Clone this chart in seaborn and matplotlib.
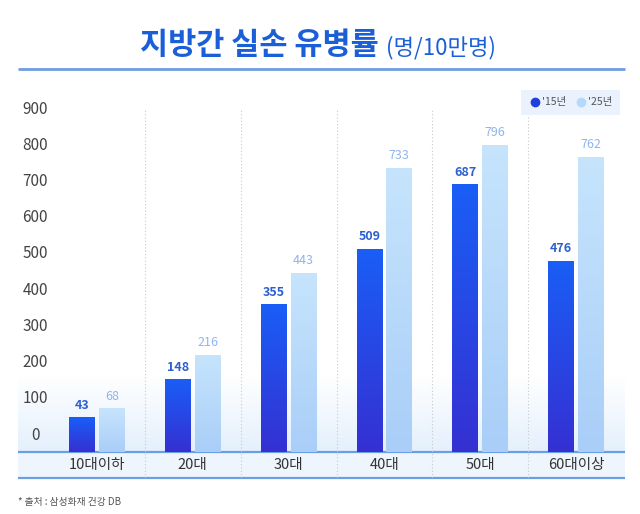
import numpy as np
import pandas as pd
import matplotlib
matplotlib.use('Agg')
import matplotlib.pyplot as plt
import seaborn as sns
from matplotlib.colors import LinearSegmentedColormap
from matplotlib.lines import Line2D
from matplotlib.patches import Rectangle

# ---------------- data ----------------
categories = ['10대이하', '20대', '30대', '40대', '50대', '60대이상']
series_names = ["'15년", "'25년"]
values_15 = [43, 148, 355, 509, 687, 476]
values_25 = [68, 216, 443, 733, 796, 762]
yticks = [0, 100, 200, 300, 400, 500, 600, 700, 800, 900]
title_main = '지방간 실손 유병률'
title_unit = '(명/10만명)'
source_text = '* 출처 : 삼성화재 건강 DB'

# ---------------- style ----------------
sns.set_theme(style='white')
plt.rcParams['font.family'] = ['Noto Sans CJK KR', 'DejaVu Sans']

df = pd.DataFrame({
    'cat': categories * 2,
    'year': [series_names[0]] * len(categories) + [series_names[1]] * len(categories),
    'val': values_15 + values_25,
})

W, H = 640, 514
fig = plt.figure(figsize=(6.4, 5.14), dpi=100)
fig.patch.set_facecolor('white')

# decoration layer in pixel coordinates
bg = fig.add_axes([0, 0, 1, 1], zorder=0)
bg.axis('off')
grad = np.linspace(0, 1, 200).reshape(-1, 1)
bgcmap = LinearSegmentedColormap.from_list('bg', ['#ffffff', '#e4f0fd'])
bg.imshow(grad, extent=[18, 625, 452, 375], cmap=bgcmap, aspect='auto', zorder=0)
bg.add_patch(Rectangle((18, 452), 607, 26, facecolor='#eef5fd', edgecolor='none', zorder=1))
bg.plot([18, 625], [452, 452], color='#6d9ee2', lw=1.6, zorder=2, solid_capstyle='butt')
bg.plot([18, 625], [478, 478], color='#6d9ee2', lw=1.6, zorder=2, solid_capstyle='butt')
bg.plot([18, 625], [69, 69], color='#6f9de0', lw=2.0, zorder=2, solid_capstyle='butt')
bg.set_xlim(0, W)
bg.set_ylim(H, 0)

# main axes
BOTTOM, TOP, BASE = -124.2, 919.4, -52
ax = fig.add_axes([49 / W, 1 - 478 / H, 575 / W, 378 / H], zorder=1)
ax.patch.set_alpha(0)

sns.barplot(data=df, x='cat', y='val', hue='year', palette=['#1f55ea', '#bcdcfb'],
            width=0.62, gap=0.13, saturation=1, legend=False, ax=ax, zorder=2,
            linewidth=0, edgecolor='none')

cmaps = [LinearSegmentedColormap.from_list('d', ['#1a5ef6', '#3530d2']),
         LinearSegmentedColormap.from_list('l', ['#c6e4fc', '#a9cef8'])]
label_colors = ['#2d5fd2', '#8fb4ee']
label_weights = ['bold', 'normal']
series_vals = [values_15, values_25]

for i, cont in enumerate(ax.containers):
    for bar, v in zip(cont, series_vals[i]):
        x0 = bar.get_x()
        w = bar.get_width()
        bar.set_y(BASE)
        bar.set_height(v - BASE)
        bar.set_linewidth(0)
        im = ax.imshow(grad, extent=[x0, x0 + w, BASE, v], cmap=cmaps[i],
                       aspect='auto', origin='upper', zorder=2.1)
        im.set_clip_path(bar)
        ax.annotate(str(v), (x0 + w / 2, v), xytext=(0, 4), textcoords='offset points',
                    ha='center', va='bottom', fontsize=9, color=label_colors[i],
                    fontweight=label_weights[i])

ax.vlines(np.arange(0.5, len(categories) - 0.5, 1), BOTTOM, 892, colors='#c9c9c9',
          linestyles=(0, (1, 2)), lw=0.8, zorder=1)

for i, c in enumerate(categories):
    ax.text(i, -88, c, ha='center', va='center', fontsize=10.5, color='#333333',
            fontweight='medium')

ax.set_xlim(-0.5, len(categories) - 0.5)
ax.set_ylim(BOTTOM, TOP)
ax.set_xticks([])
ax.set_yticks(yticks)
ax.set_yticklabels([str(t) for t in yticks])
ax.tick_params(axis='y', length=0, pad=10, labelsize=11, labelcolor='#444444')
for lab in ax.get_yticklabels():
    lab.set_ha('center')
    lab.set_fontweight('medium')
ax.set_xlabel('')
ax.set_ylabel('')
sns.despine(ax=ax, left=True, bottom=True)
ax.grid(False)

# legend
handles = [Line2D([], [], marker='o', ls='', markersize=7, markerfacecolor=c, markeredgecolor='none')
           for c in ['#1f3fe0', '#b5d8fb']]
leg = fig.legend(handles, series_names, loc='upper right', bbox_to_anchor=(625 / W, 1 - 85 / H),
                 ncol=2, frameon=True, fancybox=False, facecolor='#eaf3fd', edgecolor='none',
                 fontsize=7.5, handletextpad=0.1, columnspacing=0.8, borderpad=0.7,
                 handlelength=1.2, labelcolor='#555555')
leg.get_frame().set_alpha(1)

# title
fig.text(140 / W, 1 - 54 / H, title_main, ha='left', va='baseline', fontsize=22,
         fontweight='bold', color='#1b5fd8')
fig.text(386 / W, 1 - 54 / H, title_unit, ha='left', va='baseline', fontsize=16,
         color='#1b5fd8')

fig.text(18 / W, 1 - 502 / H, source_text, ha='left', va='center', fontsize=7, color='#555555')

fig.savefig('out.png', dpi=100)
